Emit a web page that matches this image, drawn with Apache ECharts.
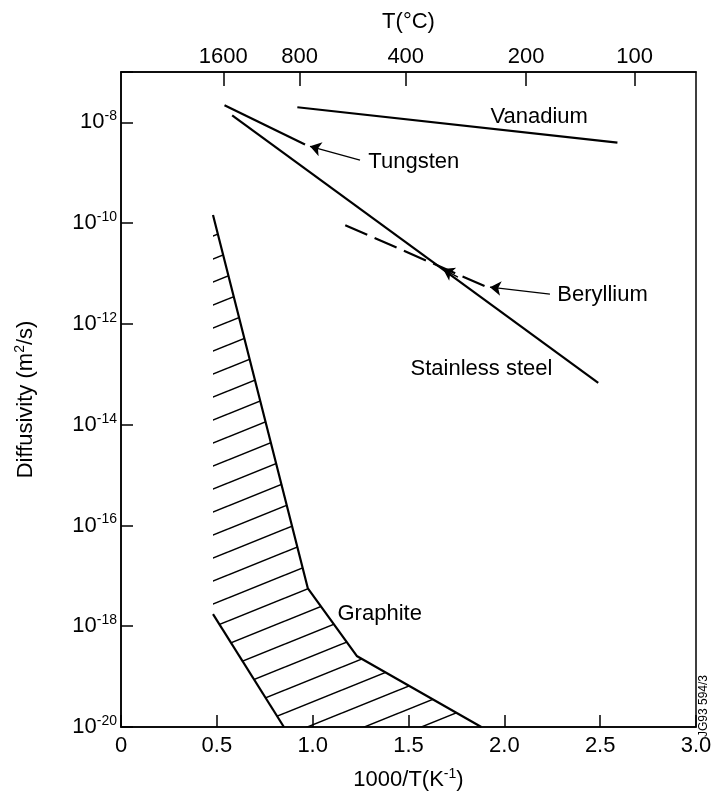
<!DOCTYPE html>
<html>
<head>
<meta charset="utf-8">
<script src="https://cdn.jsdelivr.net/npm/echarts@6/dist/echarts.min.js"></script>
<style>
  html, body { margin: 0; padding: 0; background: #fff; }
  #chart { width: 713px; height: 797px; }
</style>
</head>
<body>
<div id="chart"></div>
<script>
// x = 1000/T (K^-1), y = log10 of the diffusivity (m2/s)
const vanadiumX = [0.92, 2.59];
const vanadiumLogD = [-7.70, -8.40];

const tungstenX = [0.54, 0.96];
const tungstenLogD = [-7.66, -8.44];

const steelX = [0.58, 2.49];
const steelLogD = [-7.86, -13.17];

const berylliumX = [1.17, 1.91];
const berylliumLogD = [-10.04, -11.27];

// graphite band: upper edge (right side) and lower edge (left side)
const graphiteUpperX = [0.48, 0.975, 1.23, 1.88];
const graphiteUpperLogD = [-9.84, -17.25, -18.59, -20.0];
const graphiteLowerX = [0.48, 0.85];
const graphiteLowerLogD = [-17.76, -20.0];

// top axis, degrees C
const tempTicksC = [1600, 800, 400, 200, 100];

// text labels on the plot
const labelNames = ['Vanadium', 'Tungsten', 'Beryllium', 'Stainless steel', 'Graphite'];
const labelX = [1.925, 1.288, 2.274, 1.508, 1.127];
const labelLogD = [-7.90, -8.79, -11.43, -12.89, -17.76];

// arrows: Tungsten, Beryllium, and the small head where Be crosses the steel line
const arrowFromX = [1.247, 2.238, 1.758];
const arrowFromLogD = [-8.75, -11.41, -11.07];
const arrowToX = [0.986, 1.925, 1.680];
const arrowToLogD = [-8.475, -11.27, -10.91];

const font = "'Liberation Sans', Arial, Helvetica, sans-serif";
const ink = '#000';

function pairs(xs, ys) {
  return xs.map((x, i) => [x, ys[i]]);
}

const tempTickX = tempTicksC.map(c => 1000 / (c + 273.15));

// hatch tile for the graphite band
function hatchPattern() {
  const w = 57, h = 23;
  const c = document.createElement('canvas');
  c.width = w;
  c.height = h;
  const ctx = c.getContext('2d');
  ctx.strokeStyle = '#000';
  ctx.lineWidth = 1.5;
  for (let k = -1; k <= 1; k++) {
    ctx.beginPath();
    ctx.moveTo(0, h + k * h);
    ctx.lineTo(w, k * h);
    ctx.stroke();
  }
  return c;
}
const hatch = hatchPattern();

const graphitePolygon = pairs(graphiteUpperX, graphiteUpperLogD)
  .concat(pairs(graphiteLowerX, graphiteLowerLogD).reverse());

function solidLine(name, xs, ys, type) {
  return {
    name: name,
    type: 'line',
    data: pairs(xs, ys),
    symbol: 'none',
    silent: true,
    lineStyle: { color: ink, width: 2.2, type: type || 'solid' },
    z: 3
  };
}

const supRich = {
  b: { fontSize: 22, fontFamily: font, color: ink, lineHeight: 26 },
  s: { fontSize: 14, fontFamily: font, color: ink, verticalAlign: 'top', lineHeight: 14 }
};

const chart = echarts.init(document.getElementById('chart'), null, { renderer: 'canvas' });

const option = {
  animation: false,
  backgroundColor: '#fff',
  textStyle: { fontFamily: font, color: ink },
  grid: {
    left: 121,
    right: 17,
    top: 72,
    bottom: 70,
    show: true,
    borderColor: ink,
    borderWidth: 1.5,
    outerBoundsMode: 'none'
  },
  xAxis: [{
    type: 'value',
    position: 'bottom',
    min: 0,
    max: 3,
    interval: 0.5,
    name: '1000/T(K{s|-1})',
    nameLocation: 'middle',
    nameGap: 40,
    nameTextStyle: { fontSize: 22, fontFamily: font, color: ink, lineHeight: 26, rich: supRich },
    axisLine: { show: true, lineStyle: { color: ink, width: 1.5 } },
    axisTick: { show: true, inside: true, length: 12, lineStyle: { color: ink, width: 1.5 } },
    axisLabel: {
      color: ink, fontSize: 22, fontFamily: font, margin: 8,
      formatter: v => (v === 0 ? '0' : v.toFixed(1))
    },
    splitLine: { show: false }
  }, {
    type: 'value',
    position: 'top',
    min: 0,
    max: 3,
    name: 'T(°C)',
    nameLocation: 'middle',
    nameGap: 39,
    nameTextStyle: { fontSize: 22, fontFamily: font, color: ink },
    axisLine: { show: true, lineStyle: { color: ink, width: 1.5 } },
    axisTick: { show: true, inside: true, length: 14, customValues: tempTickX, lineStyle: { color: ink, width: 1.5 } },
    axisLabel: {
      color: ink, fontSize: 22, fontFamily: font, margin: 4,
      customValues: tempTickX,
      formatter: v => String(Math.round(1000 / v - 273.15))
    },
    splitLine: { show: false }
  }],
  yAxis: {
    type: 'value',
    min: -20,
    max: -7,
    interval: 2,
    name: 'Diffusivity (m{s|2}/s)',
    nameLocation: 'middle',
    nameGap: 82,
    nameTextStyle: { fontSize: 22, fontFamily: font, color: ink, lineHeight: 26, rich: supRich },
    axisLine: { show: true, lineStyle: { color: ink, width: 1.5 } },
    axisTick: { show: true, inside: true, length: 12, lineStyle: { color: ink, width: 1.5 } },
    axisLabel: {
      margin: 4,
      formatter: v => (Math.abs(v % 2) > 1e-9 ? '' : '{b|10}{s|' + v + '}'),
      rich: supRich
    },
    splitLine: { show: false }
  },
  graphic: [{
    type: 'text',
    x: 704,
    y: 737,
    rotation: Math.PI / 2,
    style: {
      text: 'JG93 594/3',
      fontSize: 12,
      fontFamily: font,
      fill: ink,
      textAlign: 'left',
      textVerticalAlign: 'middle'
    }
  }],
  series: [
    {
      name: 'Graphite band',
      type: 'custom',
      silent: true,
      data: [[0, -20]],
      encode: { x: 0, y: 1 },
      renderItem: function (params, api) {
        const pts = graphitePolygon.map(p => api.coord(p));
        return {
          type: 'polygon',
          shape: { points: pts },
          style: { fill: { image: hatch, repeat: 'repeat' }, stroke: null }
        };
      },
      z: 2
    },
    solidLine('Graphite upper', graphiteUpperX, graphiteUpperLogD),
    solidLine('Graphite lower', graphiteLowerX, graphiteLowerLogD),
    solidLine('Vanadium', vanadiumX, vanadiumLogD),
    solidLine('Tungsten', tungstenX, tungstenLogD),
    solidLine('Stainless steel', steelX, steelLogD),
    solidLine('Beryllium', berylliumX, berylliumLogD, [24, 8]),
    {
      name: 'Arrows',
      type: 'lines',
      coordinateSystem: 'cartesian2d',
      silent: true,
      symbol: ['none', 'arrow'],
      symbolSize: 11,
      lineStyle: { color: ink, width: 1.3, opacity: 1 },
      data: arrowFromX.map((x, i) => ({
        coords: [[x, arrowFromLogD[i]], [arrowToX[i], arrowToLogD[i]]]
      })),
      z: 4
    },
    {
      name: 'Labels',
      type: 'scatter',
      silent: true,
      symbolSize: 1,
      itemStyle: { color: 'rgba(0,0,0,0)' },
      data: labelNames.map((n, i) => ({ name: n, value: [labelX[i], labelLogD[i]] })),
      label: {
        show: true,
        position: 'right',
        distance: 0,
        formatter: p => p.name,
        color: ink,
        opacity: 1,
        fontSize: 22,
        fontFamily: font
      },
      z: 5
    }
  ]
};

chart.setOption(option);
</script>
</body>
</html>
